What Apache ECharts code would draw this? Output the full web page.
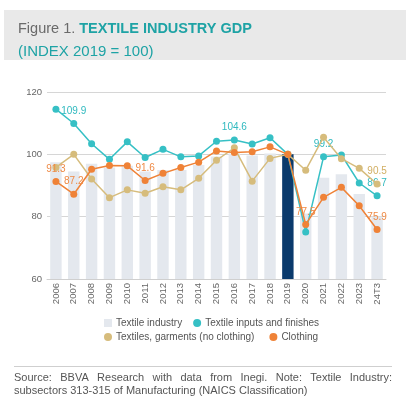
<!DOCTYPE html>
<html>
<head>
<meta charset="utf-8">
<script src="https://cdn.jsdelivr.net/npm/echarts@6/dist/echarts.min.js"></script>
<style>
html,body{margin:0;padding:0;background:#fff;}
#c{width:406px;height:402px;}
</style>
</head>
<body>
<div id="c"></div>
<script>
var categories = ['2006','2007','2008','2009','2010','2011','2012','2013','2014','2015','2016','2017','2018','2019','2020','2021','2022','2023','24T3'];
var textileIndustry = [97.5, 94.5, 97.0, 95.8, 96.3, 94.5, 95.0, 95.0, 96.6, 99.3, 100.3, 99.6, 100.3, 100.0, 81.0, 92.5, 93.6, 87.3, 80.0];
var textileInputs   = [114.5, 109.9, 103.4, 98.4, 104.0, 99.0, 101.6, 99.2, 99.5, 104.2, 104.6, 103.3, 105.3, 100.0, 75.1, 99.2, 99.8, 90.8, 86.7];
var textilesGarments= [95.8, 100.0, 92.1, 86.1, 88.6, 87.5, 89.6, 88.6, 92.3, 98.1, 102.1, 91.4, 98.7, 100.0, 94.9, 105.5, 98.6, 95.5, 90.5];
var clothing        = [91.3, 87.2, 95.2, 96.4, 96.3, 91.6, 93.9, 95.8, 97.5, 101.1, 100.6, 100.8, 102.4, 100.0, 77.5, 86.2, 89.4, 83.5, 75.9];
var labeledInputs   = [1, 10, 15, 18];
var labeledGarments = [18];
var labeledClothing = [0, 1, 5, 14, 18];
var highlightCategory = '2019';
var yTicks = [60, 80, 100, 120];

var FONT = '"Liberation Sans", Arial, sans-serif';
var cTeal = '#36c0c5', cTan = '#d6bc7c', cOrange = '#ef8237', cBar = '#e4e8ee', cNavy = '#0b3a6c';

var chart = echarts.init(document.getElementById('c'), null, {renderer:'canvas'});

function labelFor(idxList, color){
  return {
    show: true, position: 'top', distance: 4,
    fontFamily: FONT, fontSize: 10, color: color,
    formatter: function(p){ return idxList.indexOf(p.dataIndex) >= 0 ? p.value.toFixed(1) : ''; }
  };
}

// justified footer line
var footerLine1 = 'Source: BBVA Research with data from Inegi. Note: Textile Industry:';
var footerLine2 = 'subsectors 313-315 of Manufacturing (NAICS Classification)';
var footFont = '11px ' + FONT;
var cv = document.createElement('canvas').getContext('2d');
cv.font = footFont;
var words = footerLine1.split(' ');
var fx0 = 14, fx1 = 392;
var total = 0; words.forEach(function(w){ total += cv.measureText(w).width; });
var gap = (fx1 - fx0 - total) / (words.length - 1);
var footGraphics = [];
var xx = fx0;
words.forEach(function(w){
  footGraphics.push({type:'text', left: xx, top: 372, style:{text:w, font: footFont, fill:'#555'}});
  xx += cv.measureText(w).width + gap;
});
footGraphics.push({type:'text', left: 14, top: 385, style:{text: footerLine2, font: footFont, fill:'#555'}});

var option = {
  backgroundColor: '#fff',
  animation: false,
  graphic: [
    {type:'rect', left: 4, top: 10, shape:{width: 402, height: 50}, style:{fill:'#e9e9e9'}, z: -10},
    {type:'line', shape:{x1: 14, y1: 366.5, x2: 392, y2: 366.5}, style:{stroke:'#cfcfcf', lineWidth: 1}}
  ].concat(footGraphics),
  title: {
    left: 13, top: 12,
    text: '{a|Figure 1. }{b|TEXTILE INDUSTRY GDP}\n{c|(INDEX 2019 = 100)}',
    textStyle: {
      lineHeight: 23, fontWeight: 'normal',
      rich: {
        a: {fontFamily: FONT, fontSize: 14.5, fontWeight: 'normal', color: '#6a6a6a', lineHeight: 23},
        b: {fontFamily: FONT, fontSize: 14.5, fontWeight: 'bold', color: '#1ea3a5', lineHeight: 23},
        c: {fontFamily: FONT, fontSize: 15, fontWeight: 'normal', color: '#1ea3a5', lineHeight: 23}
      }
    }
  },
  legend: [
    {
      data: [{name:'Textile industry', icon:'rect', itemStyle:{color: cBar}}, {name:'Textile inputs and finishes', icon:'circle'}],
      left: 99, top: 313, itemWidth: 8, itemHeight: 8, itemGap: 11,
      textStyle: {fontFamily: FONT, fontSize: 10, color: '#555', padding: [0,0,0,-1]},
      selectedMode: false
    },
    {
      data: [{name:'Textiles, garments (no clothing)', icon:'circle'}, {name:'Clothing', icon:'circle'}],
      left: 99, top: 327, itemWidth: 8, itemHeight: 8, itemGap: 15,
      textStyle: {fontFamily: FONT, fontSize: 10, color: '#555', padding: [0,0,0,-1]},
      selectedMode: false
    }
  ],
  grid: {left: 47, right: 20, top: 92, bottom: 123, containLabel: false},
  xAxis: {
    type: 'category', data: categories,
    axisLine: {show: true, lineStyle: {color: '#cfcfcf'}},
    axisTick: {show: false},
    axisLabel: {rotate: 90, fontFamily: FONT, fontSize: 9.5, color: '#666', margin: 4, interval: 0}
  },
  yAxis: {
    type: 'value', min: yTicks[0], max: yTicks[yTicks.length-1], interval: 20,
    axisLine: {show: false}, axisTick: {show: false},
    axisLabel: {fontFamily: FONT, fontSize: 9.5, color: '#666', margin: 5},
    splitLine: {lineStyle: {color: '#d6d6d6', width: 1}}
  },
  series: [
    {
      name: 'Textile industry', type: 'bar', data: textileIndustry, barWidth: '64%',
      color: cBar,
      itemStyle: {color: function(p){ return p.name === highlightCategory ? cNavy : cBar; }},
      z: 1
    },
    {
      name: 'Textile inputs and finishes', type: 'line', data: textileInputs,
      symbol: 'circle', symbolSize: 7, lineStyle: {width: 1.5, color: cTeal},
      itemStyle: {color: cTeal}, label: labelFor(labeledInputs, '#2fb9bf'), z: 3
    },
    {
      name: 'Textiles, garments (no clothing)', type: 'line', data: textilesGarments,
      symbol: 'circle', symbolSize: 7, lineStyle: {width: 1.5, color: cTan},
      itemStyle: {color: cTan}, label: labelFor(labeledGarments, '#d1ae62'), z: 4
    },
    {
      name: 'Clothing', type: 'line', data: clothing,
      symbol: 'circle', symbolSize: 7, lineStyle: {width: 1.5, color: cOrange},
      itemStyle: {color: cOrange}, label: labelFor(labeledClothing, '#ef8a45'), z: 5
    }
  ]
};
chart.setOption(option);
</script>
</body>
</html>
